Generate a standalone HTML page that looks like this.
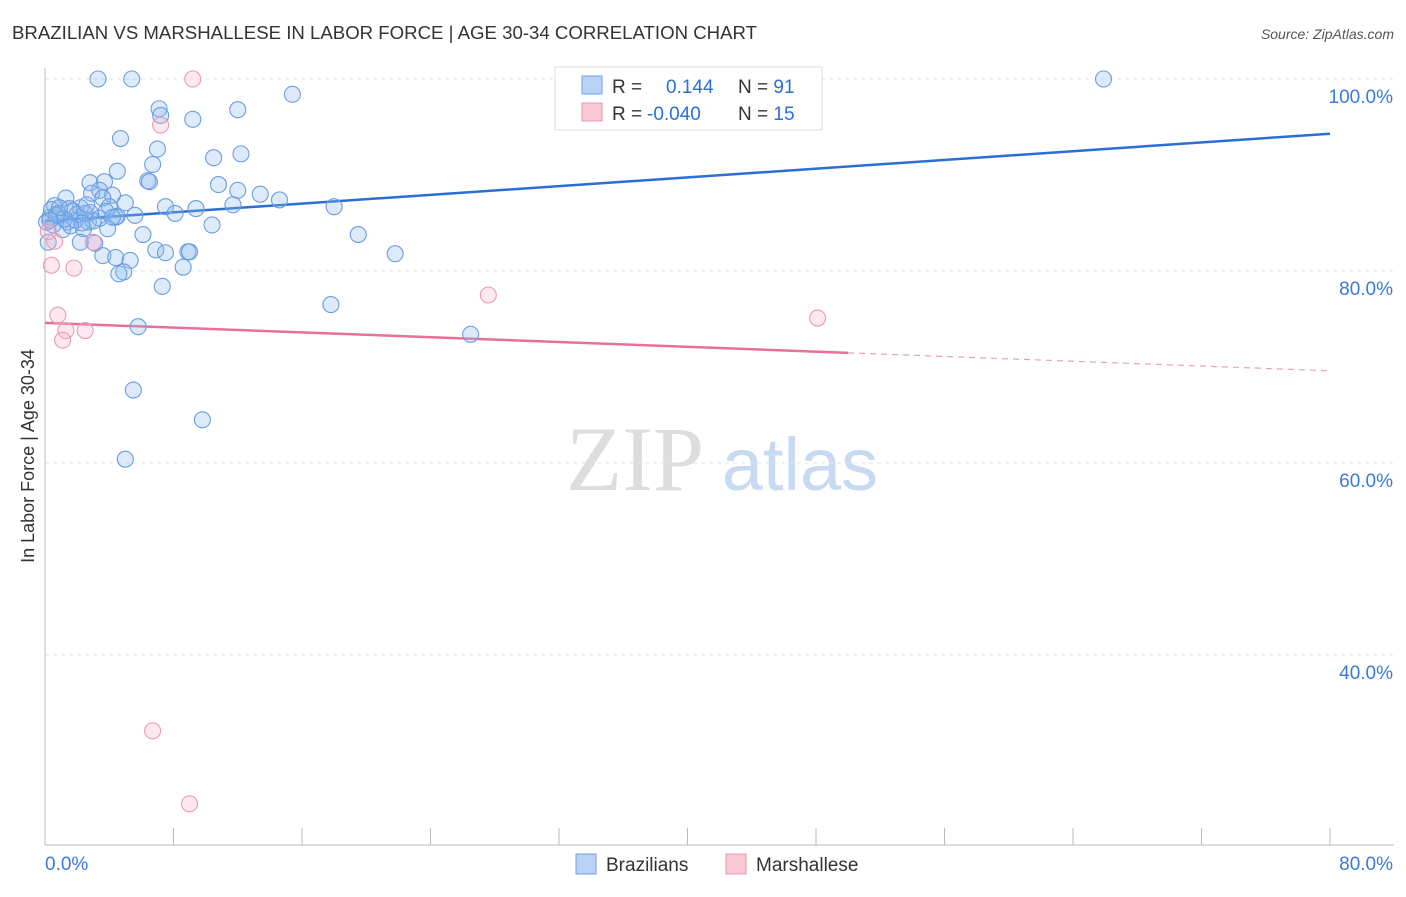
<!DOCTYPE html>
<html><head><meta charset="utf-8"><style>
body{margin:0;background:#fff;font-family:"Liberation Sans",sans-serif;}
</style></head><body>
<svg width="1406" height="892" xmlns="http://www.w3.org/2000/svg" font-family="Liberation Sans, sans-serif">
<text x="12" y="39" font-size="18" fill="#333" textLength="745" lengthAdjust="spacingAndGlyphs">BRAZILIAN VS MARSHALLESE IN LABOR FORCE | AGE 30-34 CORRELATION CHART</text>
<text x="1394" y="39" font-size="14" fill="#555" text-anchor="end" font-style="italic">Source: ZipAtlas.com</text>
<g><text x="635" y="490" font-size="92" fill="#ddd" text-anchor="middle" font-family="Liberation Serif, serif">ZIP</text><text x="800" y="490" font-size="74" fill="#c8daf2" text-anchor="middle">atlas</text></g>
<g id="grid"></g>
<line x1="45" y1="68" x2="45" y2="845" stroke="#bbb"/>
<line x1="45" y1="845" x2="1394" y2="845" stroke="#bbb"/>
<text transform="translate(34,456) rotate(-90)" font-size="18" fill="#333" text-anchor="middle">In Labor Force | Age 30-34</text>
<g id="ticks"></g>
<g id="lines"></g>
<g id="points"></g>
<g>
<rect x="555" y="67" width="267" height="63" fill="#fff" stroke="#ddd"/>
<rect x="582" y="76" width="20" height="18" fill="#b8d3f5" stroke="#6f9fe0"/>
<rect x="582" y="103" width="20" height="18" fill="#f9c9d6" stroke="#eb9ab2"/>
<text x="612" y="93" font-size="19" fill="#333">R = <tspan fill="#2a6fd6" x="666">0.144</tspan><tspan x="738" fill="#333">N = </tspan><tspan fill="#2a6fd6">91</tspan></text>
<text x="612" y="120" font-size="19" fill="#333">R = <tspan fill="#2a6fd6" x="647">-0.040</tspan><tspan x="738" fill="#333">N = </tspan><tspan fill="#2a6fd6">15</tspan></text>
</g>
<g>
<rect x="576" y="854" width="20" height="20" fill="#b8d3f5" stroke="#6f9fe0"/>
<text x="606" y="871" font-size="19" fill="#333">Brazilians</text>
<rect x="726" y="854" width="20" height="20" fill="#f9c9d6" stroke="#eb9ab2"/>
<text x="756" y="871" font-size="19" fill="#333">Marshallese</text>
</g>
</svg>
<script>
const blueX=[3.3,5.4,65.9,15.4,7.1,12.0,7.2,9.2,4.7,7.0,12.2,10.5,6.7,4.5,6.4,6.5,2.8,3.7,10.8,12.0,3.4,13.4,2.9,4.2,1.3,3.6,14.6,5.0,11.7,7.5,18.0,9.4,4.0,0.6,2.2,8.1,5.6,4.4,0.9,1.7,0.3,2.7,1.4,10.4,0.5,2.4,3.9,6.1,19.5,2.2,3.1,0.2,6.9,7.5,8.9,9.0,21.8,3.6,4.4,5.3,8.6,4.9,4.6,7.3,17.8,5.8,26.5,5.5,9.8,5.0,0.1,0.8,1.9,1.1,2.8,3.4,4.5,1.5,2.0,0.4,3.0,2.5,1.2,0.7,3.8,2.3,1.6,0.9,2.6,4.2,0.3];
const blueY=[100,100,100,98.4,96.9,96.8,96.2,95.8,93.8,92.7,92.2,91.8,91.1,90.4,89.4,89.3,89.2,89.3,89.0,88.4,88.4,88.0,88.1,87.9,87.6,87.6,87.4,87.1,86.9,86.7,86.7,86.5,86.7,86.8,86.6,86.0,85.8,85.6,85.9,86.3,85.6,85.1,85.1,84.8,84.8,84.4,84.4,83.8,83.8,83.0,82.9,83.0,82.2,81.9,82.0,82.0,81.8,81.6,81.4,81.1,80.4,79.9,79.7,78.4,76.5,74.2,73.4,67.6,64.5,60.4,85.1,86.0,85.3,84.3,86.1,85.5,85.7,86.5,85.9,86.4,85.2,86.0,85.4,85.8,86.2,85.0,84.7,86.6,86.9,85.6,85.3];
const pinkX=[9.2,7.2,0.6,3.0,0.4,1.8,27.6,0.8,48.1,1.3,2.5,1.1,6.7,9.0,0.2];
const pinkY=[100,95.2,83.1,83.0,80.6,80.3,77.5,75.4,75.1,73.8,73.8,72.8,32.1,24.5,84.1];
const yTicks=[100,80,60,40];
const yTickLabels=["100.0%","80.0%","60.0%","40.0%"];
const xTicks=[0,8,16,24,32,40,48,56,64,72,80];
const blueTrend=[85.2,94.3];
const pinkTrend=[74.6,69.6];
const NS="http://www.w3.org/2000/svg";
const sx=v=>45+v*(1285/80);
const sy=v=>79+(100-v)*9.6;
function mk(tag,attrs,parent){const e=document.createElementNS(NS,tag);for(const k in attrs)e.setAttribute(k,attrs[k]);document.getElementById(parent).appendChild(e);return e;}
yTicks.forEach((t,i)=>{
 const l=mk('line',{x1:45,x2:1394,y1:sy(t),y2:sy(t),stroke:'#e4e4e4','stroke-dasharray':'4,4'},'grid');
 
 
 const tx=mk('text',{x:1393,y:sy(t)+24,'font-size':19,fill:'#3d7ad8','text-anchor':'end'},'ticks');
 tx.textContent=yTickLabels[i];
 
 
});
xTicks.forEach(t=>{
 const l=mk('line',{x1:sx(t),x2:sx(t),y1:828,y2:845,stroke:'#bbb'},'ticks');
 
 
});
[[0,"0.0%",'start',45],[80,"80.0%",'end',1393]].forEach(a=>{
 const tx=mk('text',{x:a[3],y:870,'font-size':19,fill:'#3d7ad8','text-anchor':a[2]},'ticks');
 tx.textContent=a[1];
 
 
});
const bl=mk('line',{x1:sx(0),y1:sy(blueTrend[0]),x2:sx(80),y2:sy(blueTrend[1]),stroke:'#2a6fd6','stroke-width':2.5},'lines');


const pAt=x=>pinkTrend[0]+(pinkTrend[1]-pinkTrend[0])*x/80;
const pl=mk('line',{x1:sx(0),y1:sy(pAt(0)),x2:sx(50),y2:sy(pAt(50)),stroke:'#e8709a','stroke-width':2.5},'lines');


const pd=mk('line',{x1:sx(50),y1:sy(pAt(50)),x2:sx(80),y2:sy(pAt(80)),stroke:'#e8a0b8','stroke-width':1.2,'stroke-dasharray':'6,5'},'lines');


blueX.forEach((x,i)=>{
 const c=mk('circle',{cx:sx(x),cy:sy(blueY[i]),r:8,fill:'rgba(140,185,240,0.3)',stroke:'#6b9de2','stroke-width':1.1},'points');
 
 
});
pinkX.forEach((x,i)=>{
 const c=mk('circle',{cx:sx(x),cy:sy(pinkY[i]),r:8,fill:'rgba(245,180,200,0.3)',stroke:'#eb9ab2','stroke-width':1.1},'points');
 
 
});
</script>
</body></html>
